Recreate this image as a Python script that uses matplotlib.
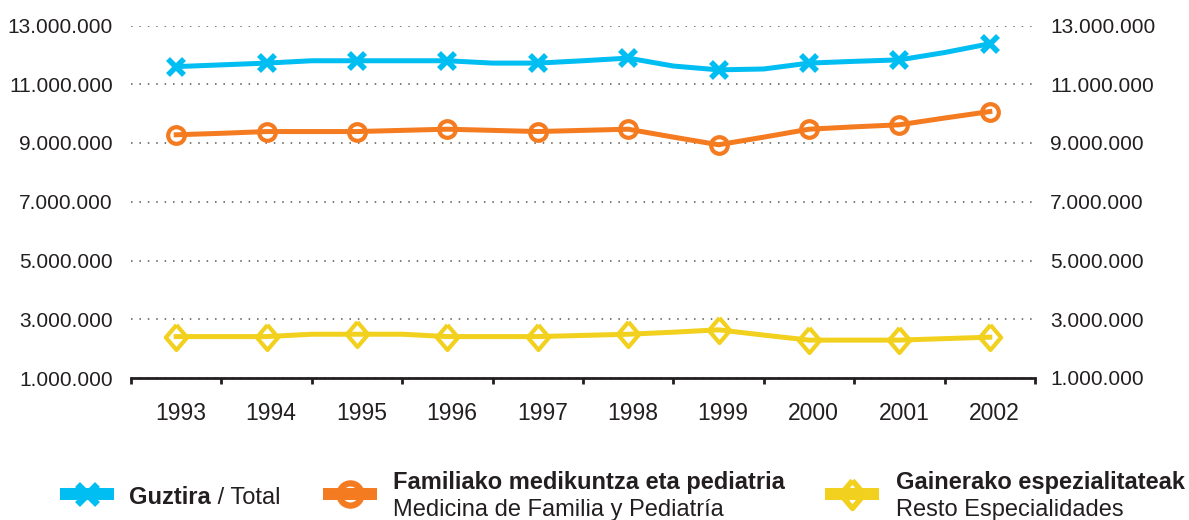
import numpy as np
import matplotlib.pyplot as plt
import matplotlib.transforms as mtransforms
from matplotlib.lines import Line2D
from matplotlib.ticker import FuncFormatter

# millones de consultas, leidos cada medio año (los marcadores caen en los años enteros)
years = ['1993', '1994', '1995', '1996', '1997', '1998', '1999', '2000', '2001', '2002']
total = [11.60, 11.66, 11.72, 11.80, 11.80, 11.80, 11.80, 11.72, 11.72, 11.80,
         11.89, 11.62, 11.49, 11.52, 11.72, 11.78, 11.83, 12.08, 12.38]
familia = [9.28, 9.33, 9.39, 9.39, 9.39, 9.43, 9.47, 9.43, 9.39, 9.43,
           9.47, 9.20, 8.94, 9.20, 9.47, 9.55, 9.62, 9.85, 10.07]
resto = [2.41, 2.41, 2.41, 2.49, 2.49, 2.49, 2.41, 2.41, 2.41, 2.45,
         2.49, 2.56, 2.64, 2.46, 2.29, 2.29, 2.29, 2.34, 2.39]

cyan = '#00bdf2'
orange = '#f47b20'
yellow = '#f2d01e'
dark = '#231f20'

# rombo algo mas alto que ancho
diamond = [(0, 1), (0.85, 0), (0, -1), (-0.85, 0), (0, 1)]

plt.rcParams['font.family'] = ['Liberation Sans', 'DejaVu Sans']

W, H = 1189, 520
fig = plt.figure(figsize=(W / 100, H / 100), dpi=100)
ax = fig.add_axes([131 / W, 142 / H, 904 / W, 352.5 / H])

pos = np.arange(len(total)) / 2
ax.plot(pos, total, color=cyan, lw=3.6, marker='x', ms=12, mew=4,
        markevery=2, clip_on=False, zorder=3)
ax.plot(pos, familia, color=orange, lw=3.6, marker='o', ms=12, mew=3,
        mfc='none', markevery=2, clip_on=False, zorder=3)
ax.plot(pos, resto, color=yellow, lw=3.6, marker=diamond, ms=18, mew=3,
        mfc='none', markevery=2, clip_on=False, zorder=3)

ax.set_xlim(-0.5, len(years) - 0.5)
ax.set_ylim(1, 13)
yt = np.arange(1, 14, 2)
fmt = FuncFormatter(lambda v, p: f'{int(round(v * 1e6)):,}'.replace(',', '.'))

ax.set_yticks(yt)
ax.yaxis.set_major_formatter(fmt)
ax.tick_params(axis='y', length=0, pad=13, labelsize=15, labelcolor=dark)
ax.set_xticks(range(len(years)))
ax.set_xticklabels(years)
ax.set_xticks(np.arange(-0.5, len(years)), minor=True)
ax.tick_params(axis='x', which='major', length=0, pad=17, labelsize=16.5, labelcolor=dark)
ax.tick_params(axis='x', which='minor', length=4.5, width=2, color=dark, direction='out')
# las etiquetas del original estan un poco corridas a la derecha
shift = mtransforms.ScaledTranslation(4.5 / 100, 0, fig.dpi_scale_trans)
for lab in ax.get_xticklabels():
    lab.set_transform(lab.get_transform() + shift)
for s in ['top', 'right', 'left']:
    ax.spines[s].set_visible(False)
ax.spines['bottom'].set_linewidth(2)
ax.spines['bottom'].set_color(dark)
ax.grid(axis='y', color='#555555', lw=1.1, linestyle=(0, (1, 4.5)))
ax.set_axisbelow(True)

ax2 = ax.twinx()
ax2.set_ylim(ax.get_ylim())
ax2.set_yticks(yt)
ax2.yaxis.set_major_formatter(fmt)
ax2.tick_params(axis='y', length=0, pad=11, labelsize=15, labelcolor=dark)
for s in ax2.spines.values():
    s.set_visible(False)


# leyenda dibujada a mano (coordenadas en pixeles)
def fx(x):
    return x / W


def fy(y):
    return 1 - y / H


def handle(x0, x1, y, color, marker, ms, mew):
    fig.add_artist(Line2D([fx(x0), fx(x1)], [fy(y), fy(y)], color=color, lw=8.6,
                          solid_capstyle='butt', transform=fig.transFigure))
    fig.add_artist(Line2D([fx((x0 + x1) / 2)], [fy(y)], color=color, marker=marker,
                          ms=ms, mew=mew, mfc='none', ls='none', transform=fig.transFigure))


handle(60, 114, 494, cyan, 'x', 15, 5)
handle(323, 377, 494, orange, 'o', 16, 4.5)
handle(825, 879, 494, yellow, diamond, 20, 4)

t = fig.text(fx(129), fy(504), 'Guztira', fontsize=17, fontweight='bold', color=dark, va='baseline')
fig.canvas.draw()
bb = t.get_window_extent()
fig.text(bb.x1 / W, fy(504), ' / Total', fontsize=17, color=dark, va='baseline')

fig.text(fx(393), fy(489), 'Familiako medikuntza eta pediatria', fontsize=17,
         fontweight='bold', color=dark, va='baseline')
fig.text(fx(393), fy(516), 'Medicina de Familia y Pediatría', fontsize=17,
         color=dark, va='baseline')
fig.text(fx(896), fy(489), 'Gainerako espezialitateak', fontsize=17,
         fontweight='bold', color=dark, va='baseline')
fig.text(fx(896), fy(516), 'Resto Especialidades', fontsize=17,
         color=dark, va='baseline')

fig.savefig('out.png', dpi=100)
